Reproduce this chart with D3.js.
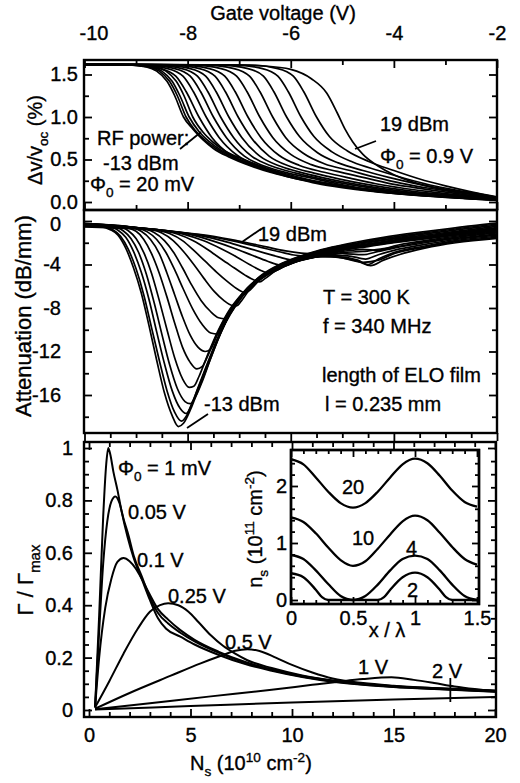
<!DOCTYPE html>
<meta charset="utf-8">
<script src="https://cdn.jsdelivr.net/npm/d3@7/dist/d3.min.js"></script>
<style>
	body{margin:0;background:#fff;font-family:"Liberation Sans",Arial,Helvetica,sans-serif;}
	text{fill:#000;stroke:#000;stroke-width:0.35px;font-family:"Liberation Sans",Arial,Helvetica,sans-serif;}
</style>
<svg id="fig" width="520" height="783"></svg>

<script>
// ---- top panel: dv/v vs gate voltage, one curve per RF power ----
var gateTicks = [-10,-8,-6,-4,-2]
var gateMinor = [-9,-7,-5,-3]
var dvTicks = [0,0.5,1,1.5]
var dvMinor = [0.25,0.75,1.25]
var rfPower = [-13,-11,-9,-7,-5,-3,-1,1,3,5,7,9,11,13,15,17,19]
var dvCurves = [
 [[-10,1.62],[-9.2,1.615],[-8.8,1.59],[-8.6,1.54],[-8.4,1.42],[-8.25,1.25],[-8.08,1.0],[-7.9,0.86],[-7.7,0.73],[-7.5,0.63],[-7.2,0.53],[-6.8,0.43],[-6.4,0.35],[-6,0.29],[-5.5,0.22],[-5,0.17],[-4.5,0.13],[-4,0.1],[-3.5,0.075],[-3,0.055],[-2.5,0.035],[-2,0.02]],
 [[-10,1.62],[-9.2,1.615],[-8.75,1.59],[-8.55,1.54],[-8.35,1.42],[-8.2,1.25],[-8.03,1.0],[-7.85,0.84],[-7.65,0.72],[-7.45,0.63],[-7.15,0.53],[-6.8,0.44],[-6.4,0.36],[-6,0.29],[-5.5,0.23],[-5,0.18],[-4.5,0.135],[-4,0.1],[-3.5,0.078],[-3,0.058],[-2.5,0.037],[-2,0.022]],
 [[-10,1.62],[-9.1,1.615],[-8.7,1.59],[-8.5,1.54],[-8.3,1.42],[-8.15,1.25],[-7.97,1.0],[-7.78,0.83],[-7.58,0.71],[-7.38,0.62],[-7.1,0.53],[-6.75,0.44],[-6.4,0.365],[-6,0.295],[-5.5,0.23],[-5,0.18],[-4.5,0.14],[-4,0.105],[-3.5,0.08],[-3,0.06],[-2.5,0.04],[-2,0.024]],
 [[-10,1.62],[-9,1.615],[-8.62,1.59],[-8.42,1.54],[-8.22,1.42],[-8.07,1.25],[-7.9,1.0],[-7.7,0.82],[-7.5,0.7],[-7.3,0.61],[-7.0,0.52],[-6.7,0.45],[-6.35,0.37],[-6,0.3],[-5.5,0.235],[-5,0.185],[-4.5,0.14],[-4,0.107],[-3.5,0.082],[-3,0.062],[-2.5,0.042],[-2,0.026]],
 [[-10,1.62],[-9.08,1.61],[-8.53,1.57],[-8.23,1.48],[-8.03,1.3],[-7.78,1.0],[-7.53,0.76],[-7.18,0.56],[-6.78,0.45],[-6.4,0.37],[-6,0.3],[-5.5,0.24],[-5,0.19],[-4.5,0.145],[-4,0.11],[-3.5,0.085],[-3,0.064],[-2.5,0.044],[-2,0.028]],
 [[-10,1.62],[-8.94,1.61],[-8.39,1.57],[-8.09,1.48],[-7.89,1.3],[-7.64,1.0],[-7.39,0.76],[-7.04,0.55],[-6.64,0.43],[-6.2,0.35],[-5.7,0.27],[-5.2,0.21],[-4.6,0.155],[-4,0.115],[-3.5,0.088],[-3,0.066],[-2.5,0.046],[-2,0.03]],
 [[-10,1.62],[-8.8,1.61],[-8.25,1.57],[-7.95,1.48],[-7.75,1.3],[-7.5,1.0],[-7.25,0.76],[-6.9,0.54],[-6.5,0.42],[-6.05,0.34],[-5.6,0.28],[-5.1,0.215],[-4.6,0.16],[-4,0.12],[-3.5,0.09],[-3,0.068],[-2.5,0.048],[-2,0.031]],
 [[-10,1.62],[-8.66,1.61],[-8.11,1.57],[-7.81,1.48],[-7.61,1.3],[-7.36,1.0],[-7.11,0.76],[-6.76,0.54],[-6.36,0.42],[-5.9,0.34],[-5.4,0.27],[-4.9,0.21],[-4.4,0.16],[-4,0.125],[-3.5,0.093],[-3,0.07],[-2.5,0.05],[-2,0.032]],
 [[-10,1.62],[-8.5,1.61],[-7.95,1.57],[-7.65,1.48],[-7.45,1.3],[-7.2,1.0],[-6.95,0.76],[-6.6,0.54],[-6.2,0.42],[-5.75,0.34],[-5.25,0.27],[-4.75,0.21],[-4.25,0.16],[-3.75,0.12],[-3.25,0.09],[-2.75,0.065],[-2,0.034]],
 [[-10,1.62],[-8.32,1.61],[-7.77,1.57],[-7.47,1.48],[-7.27,1.3],[-7.02,1.0],[-6.77,0.76],[-6.42,0.54],[-6.02,0.42],[-5.55,0.34],[-5.05,0.27],[-4.55,0.21],[-4.05,0.16],[-3.55,0.12],[-3.05,0.09],[-2.5,0.062],[-2,0.036]],
 [[-10,1.62],[-8.13,1.61],[-7.58,1.57],[-7.28,1.48],[-7.08,1.3],[-6.83,1.0],[-6.58,0.76],[-6.23,0.55],[-5.83,0.43],[-5.35,0.35],[-4.85,0.28],[-4.35,0.215],[-3.85,0.165],[-3.35,0.125],[-2.85,0.09],[-2.4,0.065],[-2,0.038]],
 [[-10,1.62],[-7.9,1.61],[-7.35,1.57],[-7.05,1.48],[-6.85,1.3],[-6.6,1.0],[-6.35,0.76],[-6.0,0.56],[-5.6,0.44],[-5.1,0.36],[-4.6,0.29],[-4.1,0.22],[-3.6,0.17],[-3.1,0.125],[-2.6,0.085],[-2,0.04]],
 [[-10,1.62],[-7.65,1.61],[-7.1,1.57],[-6.8,1.48],[-6.6,1.3],[-6.35,1.0],[-6.1,0.76],[-5.75,0.57],[-5.35,0.45],[-4.85,0.37],[-4.35,0.29],[-3.85,0.22],[-3.35,0.165],[-2.85,0.12],[-2.4,0.085],[-2,0.045]],
 [[-10,1.62],[-7.38,1.61],[-6.83,1.57],[-6.53,1.48],[-6.33,1.3],[-6.08,1.0],[-5.83,0.77],[-5.48,0.58],[-5.08,0.46],[-4.6,0.37],[-4.1,0.29],[-3.6,0.22],[-3.1,0.16],[-2.6,0.11],[-2,0.05]],
 [[-10,1.62],[-7.1,1.61],[-6.55,1.57],[-6.25,1.48],[-6.05,1.3],[-5.8,1.0],[-5.55,0.77],[-5.2,0.59],[-4.8,0.47],[-4.3,0.37],[-3.8,0.28],[-3.3,0.2],[-2.8,0.14],[-2.3,0.09],[-2,0.055]],
 [[-10,1.62],[-6.8,1.61],[-6.25,1.57],[-5.95,1.48],[-5.75,1.3],[-5.5,1.0],[-5.25,0.77],[-4.9,0.6],[-4.5,0.48],[-4.0,0.37],[-3.5,0.27],[-3.0,0.19],[-2.5,0.12],[-2,0.06]],
 [[-10,1.62],[-7,1.61],[-6.5,1.6],[-6,1.56],[-5.6,1.45],[-5.3,1.28],[-5.1,1.05],[-4.95,0.86],[-4.8,0.71],[-4.6,0.56],[-4.3,0.42],[-4,0.32],[-3.5,0.21],[-3,0.14],[-2.5,0.09],[-2,0.055]]
]

// ---- middle panel: attenuation vs gate voltage ----
var attTicks = [0,-4,-8,-12,-16]
var attMinor = [-2,-6,-10,-14,-18]
var gateHalf = [-9.5,-9,-8.5,-7.5,-7,-6.5,-5.5,-5,-4.5,-3.5,-3,-2.5]
var attCurves = [
 [[-10,-0.4],[-9.7,-0.5],[-9.5,-0.8],[-9.35,-1.3],[-9.2,-2.5],[-9.05,-4.3],[-8.9,-6.6],[-8.75,-9.6],[-8.6,-12.8],[-8.45,-15.8],[-8.3,-17.9],[-8.18,-18.9],[-8.08,-18.6],[-7.95,-17.4],[-7.8,-15.6],[-7.6,-13.2],[-7.4,-10.8],[-7.2,-8.7],[-7.0,-7.1],[-6.8,-6.0],[-6.6,-5.1],[-6.3,-4.2],[-6.0,-3.55],[-5.6,-2.9],[-5.2,-2.4],[-4.8,-2.0],[-4.2,-1.5],[-3.6,-1.1],[-3.0,-0.75],[-2.5,-0.45],[-2,-0.2]],
 [[-10,-0.35],[-9.7,-0.45],[-9.45,-0.8],[-9.3,-1.4],[-9.15,-2.6],[-9.0,-4.4],[-8.85,-6.8],[-8.7,-9.8],[-8.55,-12.8],[-8.4,-15.6],[-8.25,-17.6],[-8.12,-18.4],[-8.02,-17.9],[-7.92,-16.8],[-7.78,-15.2],[-7.6,-13.0],[-7.4,-10.7],[-7.2,-8.7],[-7.0,-7.1],[-6.8,-6.0],[-6.6,-5.15],[-6.3,-4.25],[-6.0,-3.6],[-5.6,-2.95],[-5.2,-2.45],[-4.8,-2.1],[-4.2,-1.6],[-3.6,-1.2],[-3.0,-0.85],[-2.5,-0.55],[-2,-0.3]],
 [[-10,-0.3],[-9.6,-0.45],[-9.35,-0.85],[-9.2,-1.5],[-9.05,-2.8],[-8.9,-4.7],[-8.75,-7.2],[-8.6,-10.2],[-8.45,-13.1],[-8.3,-15.6],[-8.15,-17.2],[-8.03,-17.7],[-7.93,-17.0],[-7.82,-15.6],[-7.65,-13.5],[-7.45,-11.1],[-7.25,-9.0],[-7.05,-7.4],[-6.85,-6.2],[-6.6,-5.2],[-6.3,-4.3],[-6.0,-3.65],[-5.6,-3.0],[-5.2,-2.5],[-4.8,-2.15],[-4.2,-1.7],[-3.6,-1.3],[-3.0,-0.95],[-2.5,-0.65],[-2,-0.4]],
 [[-10,-0.3],[-9.5,-0.45],[-9.25,-0.9],[-9.1,-1.6],[-8.95,-2.9],[-8.8,-4.9],[-8.65,-7.5],[-8.5,-10.4],[-8.35,-13.2],[-8.2,-15.4],[-8.05,-16.6],[-7.95,-16.8],[-7.85,-16.2],[-7.72,-14.8],[-7.55,-12.6],[-7.35,-10.2],[-7.15,-8.4],[-6.95,-7.0],[-6.75,-5.9],[-6.5,-4.9],[-6.2,-4.1],[-5.9,-3.5],[-5.5,-2.9],[-5.0,-2.4],[-4.5,-2.0],[-4.0,-1.65],[-3.4,-1.3],[-2.8,-0.95],[-2,-0.5]],
 [[-10,-0.25],[-9.4,-0.45],[-9.15,-0.9],[-9.0,-1.6],[-8.85,-2.9],[-8.7,-4.8],[-8.55,-7.3],[-8.4,-10.0],[-8.25,-12.6],[-8.1,-14.5],[-7.97,-15.3],[-7.88,-15.2],[-7.78,-14.3],[-7.62,-12.4],[-7.42,-10.2],[-7.22,-8.4],[-7.0,-7.0],[-6.8,-6.0],[-6.55,-5.0],[-6.25,-4.2],[-5.9,-3.5],[-5.5,-2.95],[-5.0,-2.45],[-4.5,-2.1],[-4.0,-1.75],[-3.4,-1.4],[-2.8,-1.05],[-2,-0.6]],
 [[-10,-0.25],[-9.3,-0.5],[-9.0,-0.95],[-8.85,-1.7],[-8.7,-3.0],[-8.55,-4.8],[-8.4,-7.0],[-8.25,-9.4],[-8.1,-11.6],[-7.95,-13.0],[-7.82,-13.6],[-7.72,-13.4],[-7.6,-12.3],[-7.42,-10.3],[-7.22,-8.5],[-7.0,-7.05],[-6.8,-6.05],[-6.55,-5.05],[-6.25,-4.25],[-5.9,-3.55],[-5.5,-3.0],[-5.0,-2.5],[-4.5,-2.15],[-4.0,-1.8],[-3.4,-1.45],[-2.8,-1.1],[-2,-0.7]],
 [[-10,-0.25],[-9.2,-0.5],[-8.9,-0.95],[-8.72,-1.7],[-8.55,-3.0],[-8.4,-4.8],[-8.25,-6.8],[-8.1,-8.8],[-7.95,-10.5],[-7.8,-11.6],[-7.66,-12.0],[-7.56,-11.8],[-7.42,-10.4],[-7.22,-8.6],[-7.0,-7.1],[-6.8,-6.1],[-6.55,-5.1],[-6.25,-4.3],[-5.9,-3.6],[-5.5,-3.05],[-5.0,-2.55],[-4.5,-2.2],[-4.0,-1.85],[-3.4,-1.5],[-2.8,-1.15],[-2,-0.75]],
 [[-10,-0.3],[-9.1,-0.55],[-8.78,-1.0],[-8.6,-1.7],[-8.42,-2.9],[-8.25,-4.5],[-8.08,-6.3],[-7.9,-8.1],[-7.72,-9.5],[-7.55,-10.3],[-7.42,-10.4],[-7.32,-9.8],[-7.18,-8.5],[-7.0,-7.2],[-6.8,-6.15],[-6.55,-5.15],[-6.25,-4.35],[-5.9,-3.65],[-5.5,-3.1],[-5.0,-2.6],[-4.5,-2.25],[-4.0,-1.9],[-3.4,-1.55],[-2.8,-1.2],[-2,-0.8]],
 [[-10,-0.3],[-9.0,-0.6],[-8.65,-1.05],[-8.45,-1.8],[-8.27,-2.9],[-8.1,-4.3],[-7.92,-5.9],[-7.74,-7.3],[-7.56,-8.3],[-7.4,-8.9],[-7.27,-9.0],[-7.17,-8.5],[-7.02,-7.4],[-6.82,-6.3],[-6.55,-5.2],[-6.25,-4.4],[-5.9,-3.7],[-5.5,-3.15],[-5.0,-2.65],[-4.5,-2.3],[-4.0,-1.95],[-3.4,-1.6],[-2.8,-1.25],[-2,-0.85]],
 [[-10,-0.3],[-8.9,-0.65],[-8.5,-1.1],[-8.28,-1.8],[-8.08,-2.8],[-7.88,-4.0],[-7.68,-5.3],[-7.48,-6.5],[-7.3,-7.3],[-7.15,-7.75],[-7.05,-7.8],[-6.95,-7.3],[-6.8,-6.3],[-6.55,-5.25],[-6.25,-4.45],[-5.9,-3.75],[-5.5,-3.2],[-5.0,-2.7],[-4.5,-2.35],[-4.0,-2.0],[-3.4,-1.65],[-2.8,-1.3],[-2,-0.9]],
 [[-10,-0.35],[-8.8,-0.7],[-8.35,-1.15],[-8.1,-1.8],[-7.88,-2.7],[-7.66,-3.7],[-7.44,-4.7],[-7.22,-5.6],[-7.02,-6.3],[-6.88,-6.6],[-6.78,-6.3],[-6.6,-5.4],[-6.3,-4.5],[-5.95,-3.8],[-5.5,-3.25],[-5.0,-2.8],[-4.6,-2.6],[-4.3,-2.7],[-4.0,-2.3],[-3.4,-1.8],[-2.8,-1.4],[-2,-1.0]],
 [[-10,-0.35],[-8.7,-0.75],[-8.2,-1.2],[-7.9,-1.8],[-7.62,-2.6],[-7.35,-3.5],[-7.1,-4.3],[-6.88,-5.0],[-6.7,-5.45],[-6.6,-5.6],[-6.5,-5.3],[-6.3,-4.6],[-5.95,-3.85],[-5.5,-3.3],[-5.0,-2.9],[-4.6,-2.8],[-4.3,-2.6],[-4.0,-2.4],[-3.4,-1.9],[-2.8,-1.5],[-2,-1.1]],
 [[-10,-0.4],[-8.6,-0.8],[-8.05,-1.25],[-7.7,-1.8],[-7.35,-2.55],[-7.05,-3.3],[-6.8,-4.0],[-6.58,-4.55],[-6.42,-4.8],[-6.3,-4.6],[-6.1,-4.1],[-5.8,-3.6],[-5.4,-3.2],[-5.0,-3.0],[-4.6,-3.1],[-4.3,-2.8],[-4.0,-2.5],[-3.4,-2.0],[-2.8,-1.6],[-2,-1.2]],
 [[-10,-0.4],[-8.5,-0.85],[-7.9,-1.3],[-7.5,-1.85],[-7.1,-2.5],[-6.75,-3.15],[-6.45,-3.7],[-6.22,-4.05],[-6.1,-4.1],[-5.95,-3.8],[-5.7,-3.45],[-5.3,-3.2],[-4.9,-3.2],[-4.55,-3.5],[-4.3,-3.1],[-4.0,-2.7],[-3.4,-2.15],[-2.8,-1.7],[-2,-1.3]],
 [[-10,-0.45],[-8.4,-0.9],[-7.75,-1.35],[-7.3,-1.85],[-6.9,-2.4],[-6.5,-2.95],[-6.2,-3.35],[-5.95,-3.6],[-5.75,-3.5],[-5.45,-3.3],[-5.1,-3.3],[-4.7,-3.6],[-4.5,-4.0],[-4.3,-3.5],[-4.0,-2.9],[-3.4,-2.3],[-2.8,-1.8],[-2,-1.4]],
 [[-10,-0.5],[-8.3,-0.95],[-7.6,-1.4],[-7.1,-1.85],[-6.6,-2.4],[-6.2,-2.85],[-5.9,-3.15],[-5.7,-3.2],[-5.4,-3.2],[-5.0,-3.4],[-4.6,-3.8],[-4.3,-3.6],[-4.0,-3.0],[-3.4,-2.4],[-2.8,-1.9],[-2,-1.5]],
 [[-10,-0.55],[-8.2,-1.0],[-7.5,-1.4],[-7.0,-1.85],[-6.5,-2.35],[-6.1,-2.75],[-5.8,-2.95],[-5.5,-3.05],[-5.1,-3.3],[-4.7,-3.7],[-4.45,-4.1],[-4.2,-3.6],[-3.9,-3.1],[-3.4,-2.5],[-2.8,-2.0],[-2,-1.6]]
]

// ---- bottom panel: Gamma/Gamma_max vs Ns ----
var nsTicks = [0,5,10,15,20]
var nsMinor = [1,2,3,4,6,7,8,9,11,12,13,14,16,17,18,19]
var gTicks = [0,0.2,0.4,0.6,0.8,1]
var gMinor = [0.05,0.1,0.15,0.25,0.3,0.35,0.45,0.5,0.55,0.65,0.7,0.75,0.85,0.9,0.95]
var phiNames = ["1 mV","0.05 V","0.1 V","0.25 V","0.5 V","1 V","2 V"]
var gammaCurves = [
 [[0.3,0.01],[0.5,0.36],[0.7,0.74],[0.85,0.94],[0.95,1.0],[1.05,0.975],[1.2,0.91],[1.4,0.84],[1.6,0.76],[1.9,0.66],[2.2,0.58],[2.6,0.5],[3.0,0.42],[3.4,0.35],[3.8,0.31],[4.5,0.28],[5.2,0.25],[6.4,0.21],[7.7,0.175],[9,0.15],[10.5,0.126],[12,0.108],[13.5,0.096],[15,0.088],[17,0.08],[20,0.07]],
 [[0.3,0.01],[0.5,0.3],[0.7,0.56],[0.9,0.72],[1.1,0.795],[1.3,0.815],[1.5,0.79],[1.7,0.73],[1.95,0.665],[2.2,0.59],[2.6,0.51],[3.0,0.43],[3.4,0.37],[3.9,0.33],[4.5,0.295],[5.2,0.262],[6.4,0.218],[7.7,0.18],[9,0.153],[10.5,0.128],[12,0.11],[13.5,0.097],[15,0.089],[17,0.081],[20,0.071]],
 [[0.3,0.01],[0.5,0.2],[0.8,0.39],[1.1,0.5],[1.4,0.565],[1.7,0.58],[2.0,0.568],[2.3,0.54],[2.6,0.5],[3.0,0.44],[3.4,0.385],[3.9,0.345],[4.5,0.305],[5.2,0.268],[6.4,0.222],[7.7,0.183],[9,0.155],[10.5,0.13],[12,0.112],[13.5,0.099],[15,0.09],[17,0.082],[20,0.072]],
 [[0.3,0.01],[1.0,0.11],[1.7,0.215],[2.4,0.31],[3.0,0.375],[3.5,0.4],[3.9,0.407],[4.4,0.4],[4.9,0.375],[5.4,0.335],[6.0,0.285],[6.6,0.245],[7.2,0.215],[7.8,0.19],[9,0.16],[10.5,0.132],[12,0.113],[13.5,0.1],[15,0.091],[17,0.083],[20,0.073]],
 [[0.3,0.005],[2,0.065],[4,0.13],[5.5,0.178],[6.5,0.207],[7.2,0.226],[7.8,0.232],[8.4,0.225],[9.2,0.2],[10.0,0.172],[11.0,0.143],[12.0,0.12],[13.5,0.103],[15,0.093],[17,0.084],[20,0.074]],
 [[0.3,0.003],[3,0.026],[6,0.052],[9,0.077],[11,0.096],[12.3,0.108],[13.5,0.118],[14.9,0.125],[16,0.115],[17,0.103],[18,0.09],[19,0.08],[20,0.072]],
 [[0.3,0.002],[5,0.015],[10,0.029],[15,0.04],[18,0.046],[20,0.05]]
]

// ---- inset: ns vs x/lambda ----
var xlTicks = [0,0.5,1,1.5]
var xlMinor = [0.1,0.2,0.3,0.4,0.6,0.7,0.8,0.9,1.1,1.2,1.3,1.4]
var nsiTicks = [0,1,2]
var nsiMinor = [0.2,0.4,0.6,0.8,1.2,1.4,1.6,1.8,2.2,2.4]
var insetNames = ["20","10","4","2"]
var insetCurves = [
 [[0,2.47],[0.1,2.38],[0.2,2.15],[0.3,1.9],[0.4,1.7],[0.5,1.62],[0.6,1.7],[0.7,1.9],[0.8,2.15],[0.9,2.38],[1.0,2.48],[1.1,2.4],[1.2,2.18],[1.3,1.92],[1.4,1.72],[1.5,1.64]],
 [[0,1.45],[0.1,1.37],[0.2,1.17],[0.3,0.92],[0.4,0.7],[0.5,0.6],[0.6,0.68],[0.7,0.9],[0.8,1.15],[0.9,1.38],[1.0,1.48],[1.1,1.4],[1.2,1.18],[1.3,0.93],[1.4,0.72],[1.5,0.62]],
 [[0,0.79],[0.1,0.72],[0.2,0.52],[0.3,0.28],[0.4,0.07],[0.45,0.02],[0.5,0.0],[0.55,0.02],[0.6,0.07],[0.7,0.27],[0.8,0.52],[0.9,0.72],[1.0,0.78],[1.1,0.72],[1.2,0.52],[1.3,0.27],[1.4,0.07],[1.5,0.0]],
 [[0,0.47],[0.1,0.4],[0.2,0.18],[0.25,0.05],[0.3,0.0],[0.7,0.0],[0.75,0.05],[0.8,0.18],[0.9,0.4],[1.0,0.48],[1.1,0.4],[1.2,0.18],[1.25,0.05],[1.3,0.0],[1.5,0.0]]
]

var svg = d3.select("#fig")
var FS = 20

// scales
var xGate = d3.scaleLinear().domain([-10,-2]).range([84.5,497])
var yDv = d3.scaleLinear().domain([0,1.5]).range([202,74.5])
var yAtt = d3.scaleLinear().domain([0,-16]).range([221,395])
var xNs = d3.scaleLinear().domain([0,20]).range([89,495])
var yG = d3.scaleLinear().domain([0,1]).range([710,448])
var xXl = d3.scaleLinear().domain([0,1.5]).range([291,477])
var yNi = d3.scaleLinear().domain([0,2]).range([600,486])

function clip(id,x0,y0,x1,y1){
	svg.append("clipPath").attr("id",id).append("rect")
		.attr("x",x0).attr("y",y0).attr("width",x1-x0).attr("height",y1-y0)
}

function frame(x0,y0,x1,y1,fill){
	svg.append("rect").attr("x",x0).attr("y",y0).attr("width",x1-x0).attr("height",y1-y0)
		.attr("fill",fill||"none").attr("stroke","#000").attr("stroke-width",2.4)
}

// ticks drawn with d3.axis, pointing inwards
function axis(fn,scale,vals,len,pad,tx,ty,labels){
	var a = fn(scale).tickValues(vals).tickSize(-len).tickPadding(pad)
		.tickFormat(labels ? function(d){return String(d)} : "")
	var g = svg.append("g").attr("transform","translate("+tx+","+ty+")").call(a)
	g.attr("font-size",null).attr("font-family",null)
	g.select(".domain").remove()
	g.selectAll("line").attr("stroke","#000").attr("stroke-width",1.8)
	g.selectAll("text").attr("font-size",FS).attr("fill","#000")
	return g
}

function curves(data,xs,ys,clipId,width,curveType){
	var line = d3.line().x(function(d){return xs(d[0])}).y(function(d){return ys(d[1])})
		.curve(curveType||d3.curveMonotoneX)
	svg.append("g").attr("clip-path","url(#"+clipId+")")
		.selectAll("path").data(data).enter().append("path")
		.attr("d",line).attr("fill","none").attr("stroke","#000")
		.attr("stroke-width",width).attr("stroke-linejoin","round")
}

// text with sub/superscript parts: [string, "sub"|"sup"|undefined]
function rich(x,y,parts,rotate,size){
	size = size||FS
	var t = svg.append("text").attr("x",x).attr("y",y).attr("font-size",size)
	if(rotate){ t.attr("transform","rotate(-90,"+x+","+y+")").attr("text-anchor","middle") }
	var shift = 0
	parts.forEach(function(p){
		var s = p[1]=="sub" ? size*0.3 : p[1]=="sup" ? -size*0.4 : 0
		t.append("tspan").text(p[0]).attr("dy",s-shift).attr("font-size",p[1] ? size*0.68 : size)
		shift = s
	})
	return t
}

function leader(x1,y1,x2,y2){
	svg.append("line").attr("x1",x1).attr("y1",y1).attr("x2",x2).attr("y2",y2)
		.attr("stroke","#000").attr("stroke-width",1.8)
}

// ================= top panel =================
clip("cTop",84,60,497,210)
curves(dvCurves,xGate,yDv,"cTop",1.7)
frame(84,60,497,210)
var topAx = axis(d3.axisTop,xGate,gateTicks,8,20,0,60,true)
topAx.selectAll("text").filter(function(d){return d==-10}).attr("dx",9)
axis(d3.axisTop,xGate,gateMinor,5,0,0,60,false)
axis(d3.axisBottom,xGate,gateTicks,8,0,0,210,false)
axis(d3.axisBottom,xGate,gateMinor,5,0,0,210,false)
axis(d3.axisLeft,yDv,dvTicks,8,6,84,0,true).selectAll("text").text(function(d){return d3.format(".1f")(d)})
axis(d3.axisLeft,yDv,dvMinor,5,0,84,0,false)
axis(d3.axisRight,yDv,dvTicks,8,0,497,0,false)
axis(d3.axisRight,yDv,dvMinor,5,0,497,0,false)

svg.append("text").attr("x",283).attr("y",20).attr("text-anchor","middle").attr("font-size",FS).text("Gate voltage (V)")
rich(42,140,[["\u0394v/v"],["oc","sub"],[" (%)"]],true)
svg.append("text").attr("x",97).attr("y",145).attr("font-size",FS).text("RF power:")
svg.append("text").attr("x",103).attr("y",170).attr("font-size",FS).text("-13 dBm")
rich(90,191,[["\u03a6"],["0","sub"],[" = 20 mV"]])
leader(180,149,201,132)
svg.append("text").attr("x",380).attr("y",131).attr("font-size",FS).text("19 dBm")
rich(380,163,[["\u03a6"],["0","sub"],[" = 0.9 V"]])
leader(355,149,376,141)

// ================= middle panel =================
clip("cMid",84,210,497,433)
curves(attCurves,xGate,yAtt,"cMid",1.7)
frame(84,210,497,433)
var midAx = axis(d3.axisLeft,yAtt,attTicks,8,23,84,0,true)
midAx.selectAll("text").filter(function(d){return d==0}).attr("dy","0.45em")
axis(d3.axisLeft,yAtt,attMinor,5,0,84,0,false)
axis(d3.axisRight,yAtt,attTicks,8,0,497,0,false)
axis(d3.axisRight,yAtt,attMinor,5,0,497,0,false)
axis(d3.axisTop,xGate,gateTicks,8,0,0,433,false)
axis(d3.axisTop,xGate,gateHalf,5,0,0,433,false)

svg.append("text").attr("x",31).attr("y",316).attr("text-anchor","middle").attr("font-size",22)
	.attr("transform","rotate(-90,31,316)").text("Attenuation (dB/mm)")
svg.append("text").attr("x",258).attr("y",241).attr("font-size",FS).text("19 dBm")
leader(242,242,261,229)
svg.append("text").attr("x",323).attr("y",304).attr("font-size",FS).text("T = 300 K")
svg.append("text").attr("x",323).attr("y",333).attr("font-size",FS).text("f = 340 MHz")
svg.append("text").attr("x",322).attr("y",382).attr("font-size",FS).text("length of ELO film")
svg.append("text").attr("x",325).attr("y",411).attr("font-size",FS).text("l = 0.235 mm")
svg.append("text").attr("x",204).attr("y",411).attr("font-size",FS).text("-13 dBm")
leader(187,428,208,414)

// ================= bottom panel =================
clip("cBot",84,442,496,717)
curves(gammaCurves,xNs,yG,"cBot",2)
frame(84,442,496,717)
axis(d3.axisBottom,xNs,nsTicks,8,11,0,717,true)
axis(d3.axisBottom,xNs,nsMinor,5,0,0,717,false)
axis(d3.axisTop,xNs,nsTicks,8,0,0,442,false)
axis(d3.axisTop,xNs,nsMinor,5,0,0,442,false)
axis(d3.axisLeft,yG,gTicks,8,11,84,0,true)
axis(d3.axisLeft,yG,gMinor,5,0,84,0,false)
axis(d3.axisRight,yG,gTicks,8,0,496,0,false)
axis(d3.axisRight,yG,gMinor,5,0,496,0,false)

rich(33,580,[["\u0393 / \u0393"],["max","sub"]],true,22)
rich(190,770,[["N"],["s","sub"],[" (10"],["10","sup"],[" cm"],["-2","sup"],[")"]])

var phiPos = [[118,475],[128,519],[137,567],[168,603],[225,649],[358,674],[432,678]]
phiNames.forEach(function(n,i){
	if(i==0){ rich(phiPos[i][0],phiPos[i][1],[["\u03a6"],["0","sub"],[" = "+n]]) }
	else { svg.append("text").attr("x",phiPos[i][0]).attr("y",phiPos[i][1]).attr("font-size",FS).text(n) }
})
leader(xNs(17.8),678,xNs(17.8),702)

// ================= inset =================
clip("cIn",291,450,479,604)
frame(291,450,479,604,"#fff")
curves(insetCurves,xXl,yNi,"cIn",2.3)
frame(291,450,479,604)
axis(d3.axisBottom,xXl,xlTicks,7,7,0,604,true)
axis(d3.axisBottom,xXl,xlMinor,4,0,0,604,false)
axis(d3.axisTop,xXl,xlTicks,7,0,0,450,false)
axis(d3.axisTop,xXl,xlMinor,4,0,0,450,false)
axis(d3.axisLeft,yNi,nsiTicks,7,4,291,0,true)
axis(d3.axisLeft,yNi,nsiMinor,4,0,291,0,false)
axis(d3.axisRight,yNi,nsiTicks,7,0,479,0,false)
axis(d3.axisRight,yNi,nsiMinor,4,0,479,0,false)

var insetPos = [[342,494],[352,545],[406,555],[407,597]]
insetNames.forEach(function(n,i){
	svg.append("text").attr("x",insetPos[i][0]).attr("y",insetPos[i][1]).attr("font-size",FS).text(n)
})
rich(262,529,[["n"],["s","sub"],[" (10"],["11","sup"],[" cm"],["-2","sup"],[")"]],true)
svg.append("text").attr("x",387).attr("y",637).attr("text-anchor","middle").attr("font-size",FS).text("x / \u03bb")
</script>
